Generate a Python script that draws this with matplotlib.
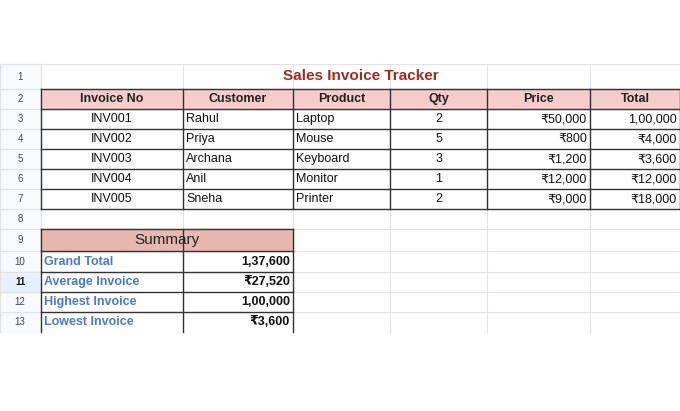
import matplotlib
matplotlib.use("Agg")
import matplotlib.pyplot as plt
from matplotlib.patches import Rectangle

plt.rcParams['font.family'] = ['Liberation Sans', 'DejaVu Sans']

title = "Sales Invoice Tracker"
headers = ["Invoice No", "Customer", "Product", "Qty", "Price", "Total"]
invoice_no = ["INV001", "INV002", "INV003", "INV004", "INV005"]
customers = ["Rahul", "Priya", "Archana", "Anil", "Sneha"]
products = ["Laptop", "Mouse", "Keyboard", "Monitor", "Printer"]
qty = [2, 5, 3, 1, 2]
price = ["₹50,000", "₹800", "₹1,200", "₹12,000", "₹9,000"]
total = ["1,00,000", "₹4,000", "₹3,600", "₹12,000", "₹18,000"]
summary_labels = ["Grand Total", "Average Invoice", "Highest Invoice", "Lowest Invoice"]
summary_values = ["1,37,600", "₹27,520", "1,00,000", "₹3,600"]

fig = plt.figure(figsize=(6.8, 4.11), dpi=100)
ax = fig.add_axes([0, 0, 1, 1])
ax.set_xlim(0, 680); ax.set_ylim(411, 0); ax.axis('off')

cols = [0, 41, 183, 293, 390, 487, 590, 680]
rows = [64, 89, 109, 129, 149, 169, 189, 209, 229, 251, 272, 292, 312, 332]
grid = '#e2e2e2'; dark = '#333333'; pink = '#f4cccc'; sumpink = '#e6b8af'

# light grid
for r in rows[:-1]:
    ax.plot([0, 680], [r, r], color=grid, lw=0.8)
for c in cols:
    ax.plot([c, c], [rows[0], rows[-1]], color=grid, lw=0.8)
ax.add_patch(Rectangle((0, rows[0]), 41, rows[-1]-rows[0], color='#f8f9fa', zorder=0))
ax.add_patch(Rectangle((0, rows[10]), 41, rows[11]-rows[10], color='#e8f0fe', zorder=0.5))
for i in range(13):
    ax.text(20, (rows[i]+rows[i+1])/2, str(i+1), ha='center', va='center', fontsize=7,
            color='#444' if i != 10 else '#1a1a1a', fontweight='bold' if i == 10 else 'normal')

# title
ax.text((cols[1]+cols[7])/2, (rows[0]+rows[1])/2, title, ha='center', va='center',
        fontsize=11, fontweight='bold', color='#a52a1a')

# header
ax.add_patch(Rectangle((cols[1], rows[1]), cols[7]-cols[1], rows[2]-rows[1], color=pink, zorder=1))
for j, h in enumerate(headers):
    ax.text((cols[j+1]+cols[j+2])/2, (rows[1]+rows[2])/2, h, ha='center', va='center',
            fontsize=9, fontweight='bold', color='#222', zorder=3)

data_cols = [invoice_no, customers, products, [str(q) for q in qty], price, total]
aligns = ['center', 'left', 'left', 'center', 'right', 'right']
for i in range(5):
    yc = (rows[i+2]+rows[i+3])/2
    for j in range(6):
        a = aligns[j]
        x0, x1 = cols[j+1], cols[j+2]
        x = (x0+x1)/2 if a == 'center' else (x0+3 if a == 'left' else x1-3)
        ax.text(x, yc, data_cols[j][i], ha=a, va='center', fontsize=9, color='#111', zorder=3)

# dark borders for main table
for r in rows[1:8]:
    ax.plot([cols[1], cols[7]], [r, r], color=dark, lw=1, zorder=4)
for c in cols[1:]:
    ax.plot([c, c], [rows[1], rows[7]], color=dark, lw=1, zorder=4)

# summary
ax.add_patch(Rectangle((cols[1], rows[8]), cols[3]-cols[1], rows[9]-rows[8], color=sumpink, zorder=1))
ax.text((cols[1]+cols[3])/2, (rows[8]+rows[9])/2, "Summary", ha='center', va='center',
        fontsize=11, color='#222', zorder=3)
for i in range(4):
    yc = (rows[9+i]+rows[10+i])/2
    ax.text(cols[1]+3, yc, summary_labels[i], ha='left', va='center', fontsize=9,
            fontweight='bold', color='#4a7ac8', zorder=3)
    ax.text(cols[3]-3, yc, summary_values[i], ha='right', va='center', fontsize=9,
            fontweight='bold', color='#111', zorder=3)
for r in rows[8:13]:
    ax.plot([cols[1], cols[3]], [r, r], color=dark, lw=1, zorder=4)
for c in cols[1:4]:
    ax.plot([c, c], [rows[8], rows[13]], color=dark, lw=1, zorder=4)

fig.savefig('out.png', dpi=100)
